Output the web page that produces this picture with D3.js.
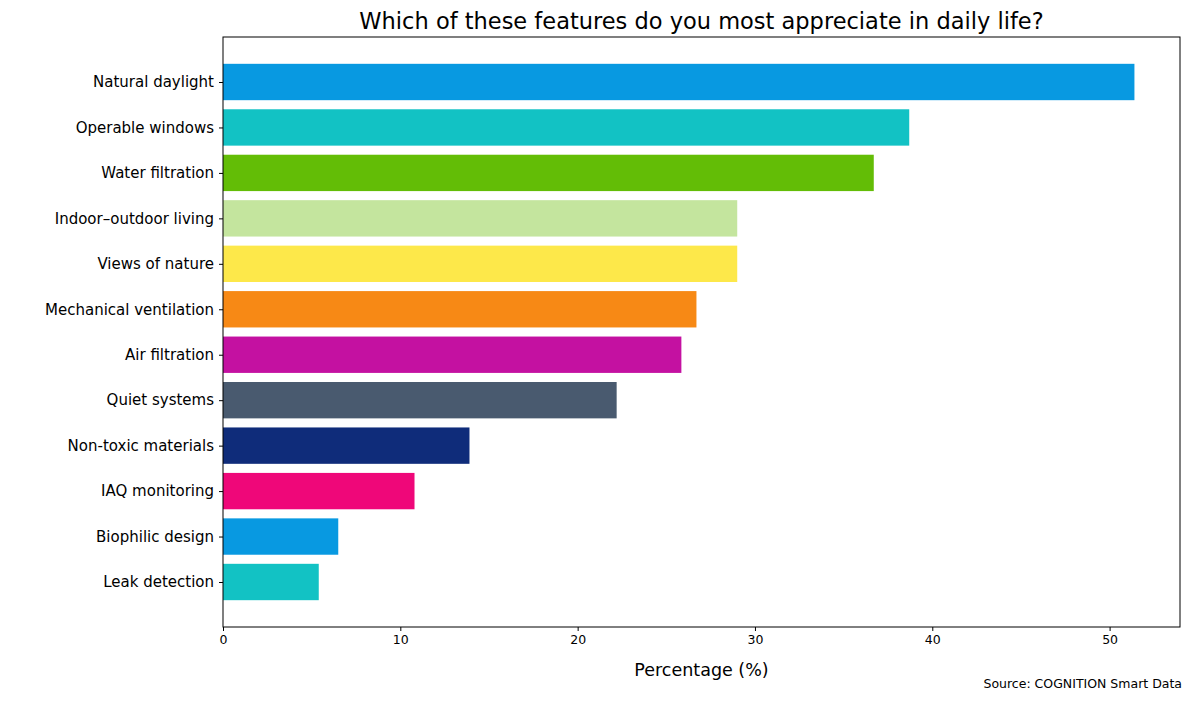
<!DOCTYPE html>
<html><head><meta charset="utf-8">
<script src="https://cdn.jsdelivr.net/npm/d3@7"></script>
<style>body{margin:0;background:#fff;font-family:"DejaVu Sans",sans-serif;}</style>
</head><body><svg id="c" width="1193" height="701"></svg>
<script>
const categories = ["Natural daylight","Operable windows","Water filtration","Indoor–outdoor living","Views of nature","Mechanical ventilation","Air filtration","Quiet systems","Non-toxic materials","IAQ monitoring","Biophilic design","Leak detection"];
const values = [51.4,38.7,36.7,29.0,29.0,26.7,25.85,22.2,13.9,10.8,6.5,5.4];
const colors = ["#0899e1","#12c2c4","#63bd06","#c4e59e","#fde84a","#f78915","#c411a1","#495a6f","#0f2c7a","#ef0779","#0899e1","#12c2c4"];
const xTicks = [0,10,20,30,40,50];

const svg = d3.select("#c");
const L=223,R=1180,T=37,B=627;
const x = d3.scaleLinear().domain([0, d3.max(values)*1.05]).range([L,R]);
const y = d3.scaleLinear().domain([-0.99, 11.99]).range([T,B]);
const bh = y(0.8)-y(0);

svg.selectAll("rect.bar").data(values).enter().append("rect")
  .attr("x", x(0)).attr("y",(d,i)=>y(i-0.4)).attr("width",d=>x(d)-x(0)).attr("height",bh)
  .attr("fill",(d,i)=>colors[i]);

svg.append("rect").attr("x",L).attr("y",T).attr("width",R-L).attr("height",B-T)
  .attr("fill","none").attr("stroke","#000").attr("stroke-width",1);

const xa = svg.append("g").attr("transform",`translate(0,${B})`)
  .call(d3.axisBottom(x).tickValues(xTicks).tickSize(4).tickPadding(4));
xa.select(".domain").remove();
xa.selectAll("text").attr("font-size",12.5).attr("font-family","DejaVu Sans").attr("fill","#000");

const ya = svg.append("g").attr("transform",`translate(${L},0)`)
  .call(d3.axisLeft(y).tickValues(d3.range(categories.length)).tickFormat(i=>categories[i]).tickSize(4).tickPadding(5));
ya.select(".domain").remove();
ya.selectAll("text").attr("font-size",15).attr("font-family","DejaVu Sans").attr("fill","#000");

svg.append("text").attr("x",(L+R)/2).attr("y",29).attr("text-anchor","middle")
  .attr("font-size",22.5).text("Which of these features do you most appreciate in daily life?");
svg.append("text").attr("x",(L+R)/2).attr("y",676).attr("text-anchor","middle")
  .attr("font-size",17.5).text("Percentage (%)");
svg.append("text").attr("x",1182).attr("y",688).attr("text-anchor","end")
  .attr("font-size",12.5).text("Source: COGNITION Smart Data");
</script></body></html>
